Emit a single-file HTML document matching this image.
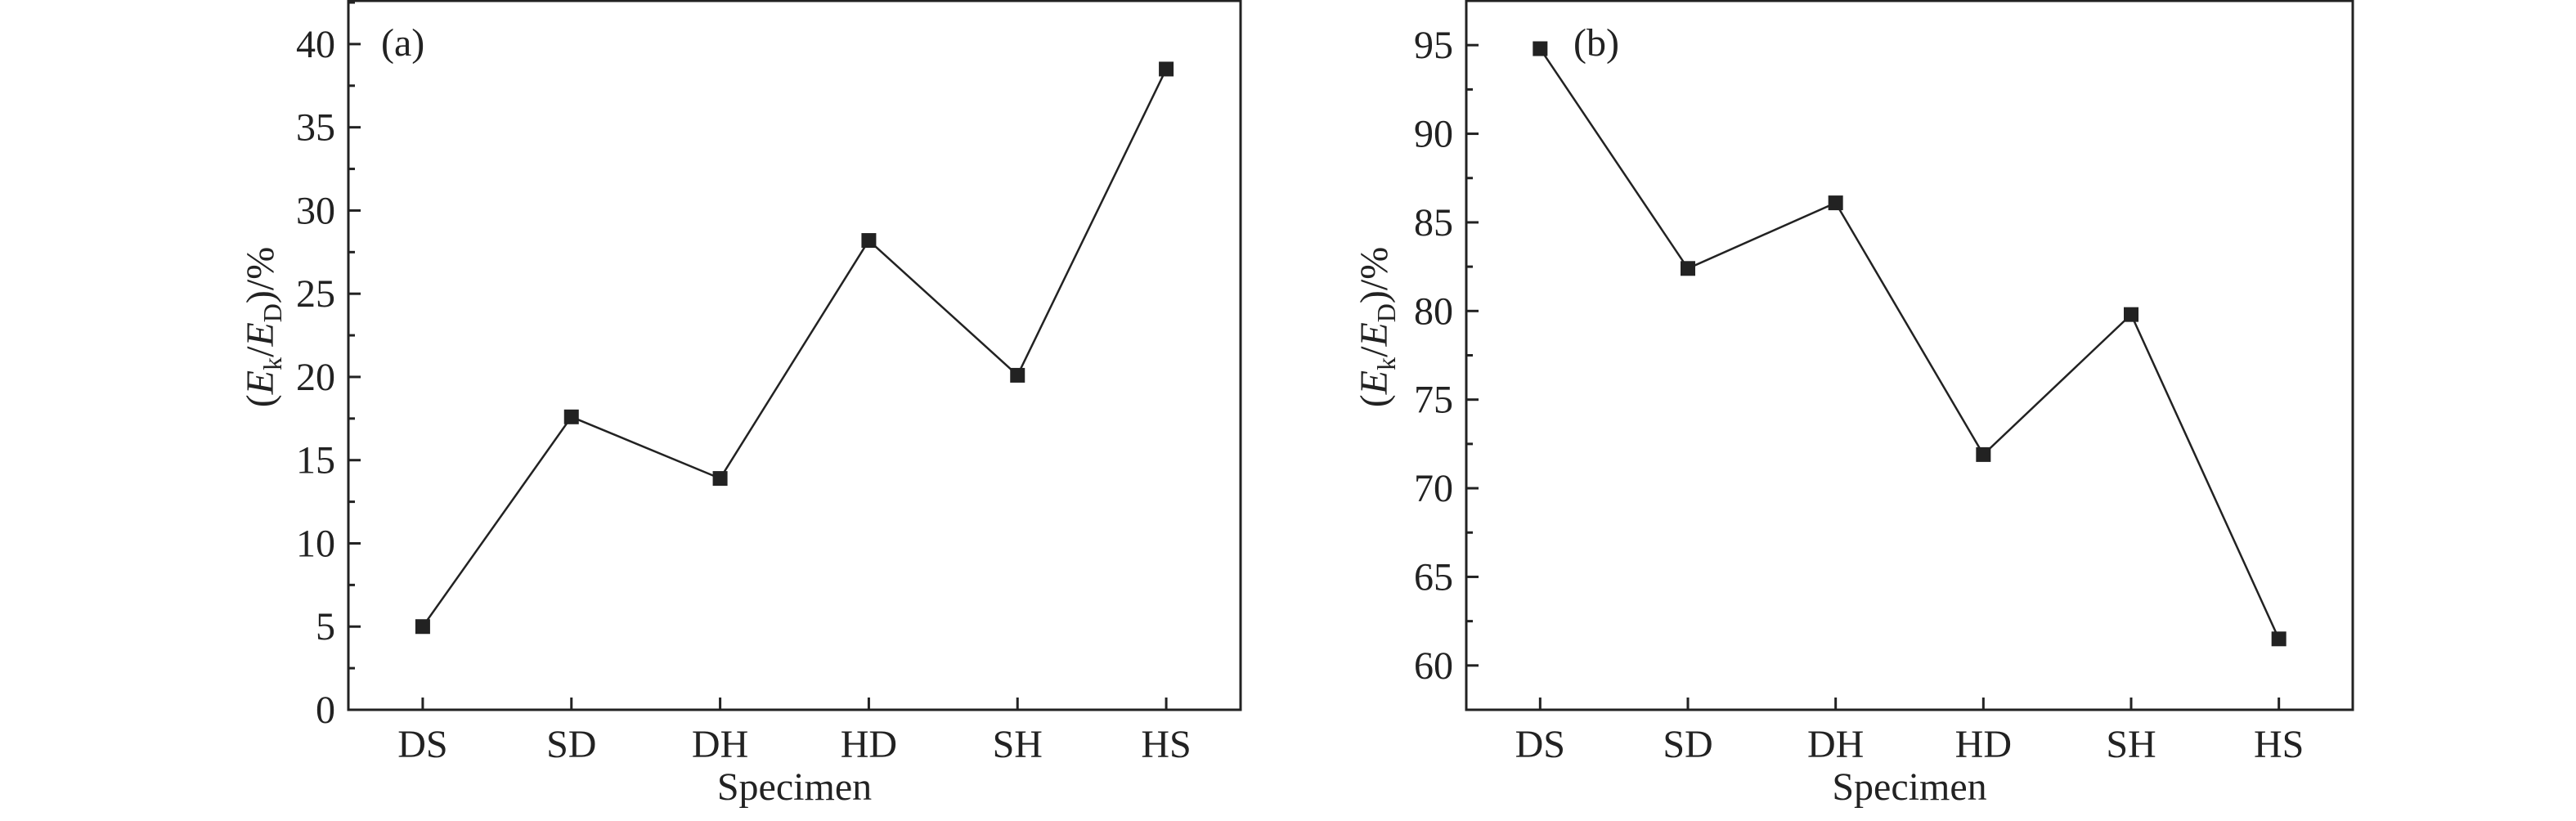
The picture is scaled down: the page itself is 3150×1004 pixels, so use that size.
<!DOCTYPE html>
<html><head><meta charset="utf-8"><style>
html,body{margin:0;padding:0;background:#fff;}
svg{display:block;font-family:"Liberation Serif",serif;}
</style></head><body>
<svg id="chart" width="3150" height="1004" viewBox="0 0 3150 1004" xmlns="http://www.w3.org/2000/svg"></svg>
<script>
const categories = ["DS","SD","DH","HD","SH","HS"];
const seriesA = [5.0, 17.6, 13.9, 28.2, 20.1, 38.5];
const seriesB = [94.8, 82.4, 86.1, 71.9, 79.8, 61.5];
const ticksA = [0,5,10,15,20,25,30,35,40];
const ticksB = [60,65,70,75,80,85,90,95];
const NS = "http://www.w3.org/2000/svg";
const svg = document.getElementById("chart");
function mk(tag, attrs, parent){const e=document.createElementNS(NS,tag);for(const k in attrs)e.setAttribute(k,attrs[k]);(parent||svg).appendChild(e);return e;}

function panel(cfg){
  const g = mk("g",{});
  
  
  const L=cfg.left,R=cfg.right,T=1,B=868;
  const y=v=>B-(v-cfg.ymin)/(cfg.ymax-cfg.ymin)*(B-T);
  const x=i=>L+(i+0.5)/categories.length*(R-L);
  // ticks
  cfg.ticks.forEach(t=>{
    const l=mk("line",{x1:L,x2:L+15,y1:y(t),y2:y(t),stroke:"#222","stroke-width":3},g);
    
    
    const m=mk("line",{x1:L,x2:L+8,y1:y(t+2.5),y2:y(t+2.5),stroke:"#222","stroke-width":3},g);
    
    
    const tx=mk("text",{x:L-16,y:y(t)+16,"text-anchor":"end","font-size":48,fill:"#222"},g);
    tx.textContent=t;
    
    
  });
  categories.forEach((c,i)=>{
    const l=mk("line",{x1:x(i),x2:x(i),y1:B,y2:B-15,stroke:"#222","stroke-width":3},g);
    
    
    const tx=mk("text",{x:x(i),y:926,"text-anchor":"middle","font-size":48,fill:"#222"},g);
    tx.textContent=c;
    
    
  });
  const fr=mk("rect",{x:L,y:T,width:R-L,height:B-T,fill:"none",stroke:"#222","stroke-width":3},g);
  
  
  const pts=cfg.data.map((v,i)=>x(i)+","+y(v)).join(" ");
  const pl=mk("polyline",{points:pts,fill:"none",stroke:"#222","stroke-width":2.5},g);
  
  
  cfg.data.forEach((v,i)=>{
    const r=mk("rect",{x:x(i)-9,y:y(v)-9,width:18,height:18,fill:"#222"},g);
    
    
  });
  const xt=mk("text",{x:(L+R)/2,y:978,"text-anchor":"middle","font-size":48,fill:"#222"},g);
  xt.textContent="Specimen";
  
  
  const yt=mk("text",{transform:"translate("+cfg.ytx+",400) rotate(-90)","text-anchor":"middle","font-size":48,fill:"#222"},g);
  yt.innerHTML='(<tspan font-style="italic">E</tspan><tspan font-size="32" dy="10">k</tspan><tspan dy="-10">/</tspan><tspan font-style="italic">E</tspan><tspan font-size="32" dy="10">D</tspan><tspan dy="-10">)/%</tspan>';
  
  
  const pl2=mk("text",{x:cfg.lx,y:cfg.ly,"font-size":48,fill:"#222"},g);
  pl2.textContent=cfg.label;
  
  
}
panel({name:"panel-a",left:426,right:1517,ymin:0,ymax:42.6,ticks:ticksA,data:seriesA,ytx:334,lx:466,ly:68,label:"(a)"});
panel({name:"panel-b",left:1793,right:2877,ymin:57.5,ymax:97.5,ticks:ticksB,data:seriesB,ytx:1696,lx:1924,ly:68,label:"(b)"});
</script>
</body></html>
